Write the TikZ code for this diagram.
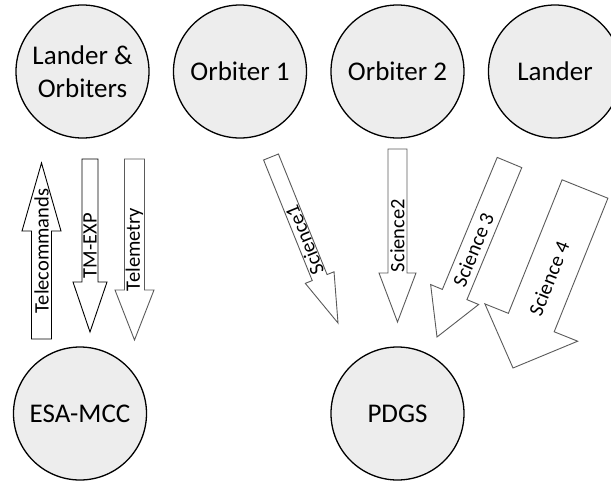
\documentclass[tikz,border=0pt]{standalone}
\usepackage{fontspec}
\setmainfont{Carlito}
\usepackage{tikz}
\usetikzlibrary{calc,positioning}

\definecolor{sitefill}{RGB}{237,237,237}
\definecolor{flowline}{RGB}{90,90,90}

\tikzset{
  site/.style={draw=black, line width=1.3pt, circle, fill=sitefill,
    minimum size=133pt, inner sep=0pt, align=center,
    font=\fontsize{27}{33}\selectfont},
  flowtext/.style={inner sep=0pt, font=\fontsize{20.5}{24}\selectfont},
}

% block arrow: name, tail, tip, shaft half width, head half width,
% head length, text angle, text, outline colour
\newcommand{\blockarrow}[9]{%
  \coordinate (hb) at ($(#3)!#6pt!(#2)$);
  \draw[draw=#9, line width=0.9pt, fill=white, line join=miter]
    ($(#2)!#4pt!90:(#3)$) -- ($(hb)!#4pt!90:(#3)$) -- ($(hb)!#5pt!90:(#3)$)
    -- (#3) -- ($(hb)!#5pt!-90:(#3)$) -- ($(hb)!#4pt!-90:(#3)$)
    -- ($(#2)!#4pt!-90:(#3)$) -- cycle;
  \node[flowtext, rotate=#7] (#1) at ($(#2)!0.5!(#3)$) {#8};
}

\begin{document}
\begin{tikzpicture}[x=1pt, y=1pt]
    \useasboundingbox (0,0) rectangle (611,-483);

    % Spacecraft
    \node [site] (lanorb) at (82.5,-71.5) {Lander \&\\Orbiters};
    \node [site] (orb1) at (240,-71.5) {Orbiter 1};
    \node [site] (orb2) at (397.5,-71.5) {Orbiter 2};
    \node [site] (lander) at (555,-71.5) {Lander};

    % Ground
    \node [site] (esamcc) at (80,-413.5) {ESA-MCC};
    \node [site] (pdgs) at (397.5,-413.5) {PDGS};

    % Data flows to ESA-MCC
    \blockarrow{tc}{41.5,-339}{41.5,-163}{10}{19.5}{68}{90}{Telecommands}{black}
    \blockarrow{tmexp}{90,-159}{90,-332}{8}{17}{50}{90}{TM-EXP}{black}
    \blockarrow{tm}{134.5,-159}{134.5,-340}{10}{19.5}{50}{90}{Telemetry}{flowline}

    % Data flows to PDGS
    \blockarrow{sci1}{271,-157}{338,-323}{8}{15.5}{49}{112}{Science1}{flowline}
    \blockarrow{sci2}{397.5,-149}{397.5,-322}{9.5}{18.5}{49}{90}{Science2}{flowline}
    \blockarrow{sci3}{509.5,-162.5}{437,-337}{13.3}{26}{46}{67.4}{Science 3}{flowline}
    \blockarrow{sci4}{585,-189}{513,-368}{24.7}{50}{49}{68.1}{Science 4}{flowline}

\end{tikzpicture}
\end{document}
